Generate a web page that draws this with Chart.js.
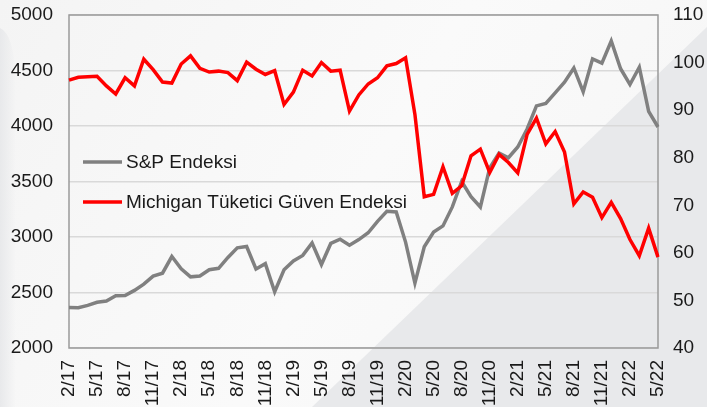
<!DOCTYPE html>
<html>
<head>
<meta charset="utf-8">
<script src="https://cdn.jsdelivr.net/npm/chart.js@4.4.0/dist/chart.umd.min.js"></script>
<style>
  html, body { margin: 0; padding: 0; background: #f3f3f3; }
  #wrap { width: 707px; height: 407px; }
</style>
</head>
<body>
<div id="wrap"><canvas id="lineChart" width="707" height="407"></canvas></div>
<script>
// months, Feb 2017 .. May 2022
var months = [
  "2/17","3/17","4/17","5/17","6/17","7/17","8/17","9/17","10/17","11/17","12/17",
  "1/18","2/18","3/18","4/18","5/18","6/18","7/18","8/18","9/18","10/18","11/18","12/18",
  "1/19","2/19","3/19","4/19","5/19","6/19","7/19","8/19","9/19","10/19","11/19","12/19",
  "1/20","2/20","3/20","4/20","5/20","6/20","7/20","8/20","9/20","10/20","11/20","12/20",
  "1/21","2/21","3/21","4/21","5/21","6/21","7/21","8/21","9/21","10/21","11/21","12/21",
  "1/22","2/22","3/22","4/22","5/22"
];

var spIndex = [
  2364, 2363, 2384, 2412, 2423, 2470, 2472, 2519, 2575, 2648, 2674,
  2824, 2714, 2641, 2648, 2705, 2718, 2816, 2902, 2914, 2712, 2760, 2507,
  2704, 2784, 2834, 2946, 2752, 2942, 2980, 2926, 2977, 3038, 3141, 3231,
  3226, 2954, 2585, 2912, 3044, 3100, 3271, 3500, 3363, 3270, 3622, 3756,
  3714, 3811, 3973, 4181, 4204, 4298, 4395, 4523, 4308, 4605, 4567, 4766,
  4516, 4374, 4530, 4132, 3991
];

var michigan = [
  96.3, 96.9, 97.0, 97.1, 95.1, 93.4, 96.8, 95.1, 100.7, 98.5, 95.9,
  95.7, 99.7, 101.4, 98.8, 98.0, 98.2, 97.9, 96.2, 100.1, 98.6, 97.5, 98.3,
  91.2, 93.8, 98.4, 97.2, 100.0, 98.2, 98.4, 89.8, 93.2, 95.5, 96.8, 99.3,
  99.8, 101.0, 89.1, 71.8, 72.3, 78.1, 72.5, 74.1, 80.4, 81.8, 76.9, 80.7,
  79.0, 76.8, 84.9, 88.3, 82.9, 85.5, 81.2, 70.3, 72.8, 71.7, 67.4, 70.6,
  67.2, 62.8, 59.4, 65.2, 59.1
];

var seriesNames = ["S&P Endeksi", "Michigan Tüketici Güven Endeksi"];
var seriesColors = ["#808080", "#ff0000"];

var FONT = "'Liberation Sans', Arial, sans-serif";

// slide background with the diagonal shade
var backdrop = {
  id: 'backdrop',
  beforeDraw: function(chart){
    var c = chart.ctx, w = chart.width, h = chart.height;
    c.save();
    var g = c.createLinearGradient(0, 0, w, h);
    g.addColorStop(0, '#f4f4f4');
    g.addColorStop(0.5, '#fafafa');
    g.addColorStop(1, '#f5f5f5');
    c.fillStyle = g;
    c.fillRect(0, 0, w, h);
    // soft darker band on the left edge
    var lg = c.createLinearGradient(0, 0, 16, 0);
    lg.addColorStop(0, '#e8e9eb');
    lg.addColorStop(1, 'rgba(232,233,235,0)');
    c.fillStyle = lg;
    c.beginPath();
    c.moveTo(0, 28);
    c.quadraticCurveTo(14, 34, 16, 80);
    c.lineTo(16, h);
    c.lineTo(0, h);
    c.closePath();
    c.fill();
    c.fillStyle = '#e8e9eb';
    c.beginPath();
    c.moveTo(w, 27);
    c.lineTo(312, h);
    c.lineTo(w, h);
    c.closePath();
    c.fill();
    c.restore();
  },
  beforeDatasetsDraw: function(chart){
    var a = chart.chartArea, c = chart.ctx;
    c.save();
    c.strokeStyle = '#9a9a9a';
    c.lineWidth = 1.5;
    c.strokeRect(a.left, a.top, a.right - a.left, a.bottom - a.top);
    c.restore();
  },
  afterDraw: function(chart){
    var c = chart.ctx;
    c.save();
    c.font = '19px ' + FONT;
    c.textBaseline = 'middle';
    var ys = [162, 202];
    for (var i = 0; i < seriesNames.length; i++) {
      c.strokeStyle = seriesColors[i];
      c.lineWidth = 3.5;
      c.beginPath();
      c.moveTo(83, ys[i]);
      c.lineTo(122, ys[i]);
      c.stroke();
      c.fillStyle = '#1a1a1a';
      c.fillText(seriesNames[i], 126, ys[i] + 1);
    }
    c.restore();
  }
};

function noPad(s){ s.paddingTop = 0; s.paddingBottom = 0; s.paddingLeft = 0; s.paddingRight = 0; }

new Chart(document.getElementById("lineChart"), {
  type: 'line',
  data: {
    labels: months,
    datasets: [
      {
        label: seriesNames[0],
        data: spIndex,
        borderColor: seriesColors[0],
        borderWidth: 3.5,
        pointRadius: 0,
        tension: 0,
        yAxisID: 'y',
        order: 2
      },
      {
        label: seriesNames[1],
        data: michigan,
        borderColor: seriesColors[1],
        borderWidth: 3.5,
        pointRadius: 0,
        tension: 0,
        yAxisID: 'y1',
        order: 1
      }
    ]
  },
  options: {
    responsive: false,
    animation: false,
    layout: { padding: { top: 15, left: 0, right: 0, bottom: 0 } },
    plugins: {
      legend: { display: false },
      tooltip: { enabled: false }
    },
    scales: {
      x: {
        offset: false,
        grid: { display: false, drawTicks: false },
        border: { display: false },
        ticks: {
          autoSkip: false,
          minRotation: 90,
          maxRotation: 90,
          padding: 12,
          color: '#1a1a1a',
          font: { family: FONT, size: 19 },
          callback: function(v, i){ return i % 3 === 0 ? months[i] : ''; }
        },
        afterFit: function(s){ s.height = 59; noPad(s); }
      },
      y: {
        position: 'left',
        min: 2000,
        max: 5000,
        grid: { color: '#d9d9d9', lineWidth: 1.5, drawTicks: false },
        border: { display: false },
        ticks: {
          stepSize: 500,
          padding: 16,
          color: '#1a1a1a',
          font: { family: FONT, size: 19 },
          callback: function(v){ return String(v); }
        },
        afterFit: function(s){ s.width = 69; noPad(s); }
      },
      y1: {
        position: 'right',
        min: 40,
        max: 110,
        grid: { display: false, drawTicks: false },
        border: { display: false },
        ticks: {
          stepSize: 10,
          padding: 15,
          color: '#1a1a1a',
          font: { family: FONT, size: 19 },
          callback: function(v){ return String(v); }
        },
        afterFit: function(s){ s.width = 49; noPad(s); }
      }
    }
  },
  plugins: [backdrop]
});
</script>
</body>
</html>
